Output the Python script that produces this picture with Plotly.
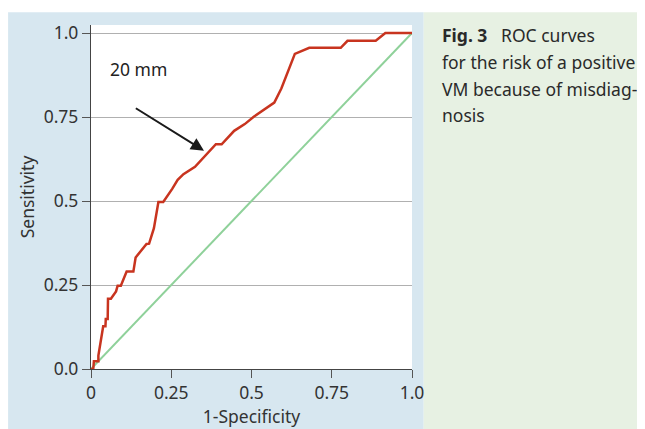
import plotly.graph_objects as go

# ROC curve (1-Specificity, Sensitivity)
fpr = [0.0, 0.007, 0.009, 0.023, 0.023, 0.038, 0.045, 0.046, 0.052, 0.053, 0.062, 0.078,
       0.083, 0.093, 0.111, 0.132, 0.139, 0.173, 0.181, 0.196, 0.21, 0.225, 0.253, 0.27,
       0.288, 0.324, 0.389, 0.407, 0.446, 0.479, 0.507, 0.571, 0.593, 0.635, 0.68, 0.778,
       0.799, 0.887, 0.917, 1.0]
sens = [0.0, 0.0, 0.023, 0.023, 0.04, 0.127, 0.127, 0.149, 0.149, 0.209, 0.209, 0.231,
        0.248, 0.248, 0.29, 0.29, 0.332, 0.372, 0.373, 0.419, 0.497, 0.497, 0.536, 0.563,
        0.58, 0.602, 0.669, 0.669, 0.709, 0.729, 0.751, 0.793, 0.835, 0.938, 0.956, 0.956,
        0.977, 0.977, 1.0, 1.0]
diag_x = [0.0, 1.0]
diag_y = [0.0, 1.0]

tick_vals = [0, 0.25, 0.5, 0.75, 1.0]
x_tick_text = ["0", "0.25", "0.5", "0.75", "1.0"]
y_tick_text = ["0.0", "0.25", "0.5", "0.75", "1.0"]

label_text = "20 mm"
arrow_tail = (0.135, 0.779)
arrow_head = (0.352, 0.650)
caption_lines = ["<b>Fig. 3</b>   ROC curves", "for the risk of a positive",
                 "VM because of misdiag-", "nosis"]

FONT = "Noto Sans"
TXT = "#333333"
FS = 17.5

fig = go.Figure()
fig.add_trace(go.Scatter(x=diag_x, y=diag_y, mode="lines",
                         line=dict(color="#8fd19a", width=2), hoverinfo="skip"))
fig.add_trace(go.Scatter(x=fpr, y=sens, mode="lines",
                         line=dict(color="#c8341f", width=2.5), hoverinfo="skip"))

# background panels (paper coords)
fig.add_shape(type="rect", xref="paper", yref="paper", x0=-0.2583, x1=1.0364,
              y0=-0.2, y1=1.0369, fillcolor="#d7e7f0", line_width=0, layer="below")
fig.add_shape(type="rect", xref="paper", yref="paper", x0=1.0364, x1=1.75,
              y0=-0.2, y1=1.0369, fillcolor="#e7f1e3", line_width=0, layer="below")
fig.add_shape(type="rect", xref="paper", yref="paper", x0=0, x1=1,
              y0=0, y1=1, fillcolor="white", line_width=0, layer="below")

fig.add_annotation(x=arrow_head[0], y=arrow_head[1], ax=arrow_tail[0], ay=arrow_tail[1],
                   xref="x", yref="y", axref="x", ayref="y", text="", showarrow=True,
                   arrowhead=2, arrowsize=1.3, arrowwidth=2, arrowcolor="#1a1a1a")
fig.add_annotation(x=0.053, y=0.893, xref="x", yref="y", text=label_text, showarrow=False,
                   xanchor="left", yanchor="middle", font=dict(family=FONT, size=FS, color="#222"))

line_y = [35, 62, 89, 115]
for txt, py in zip(caption_lines, line_y):
    fig.add_annotation(x=(440 - 91) / 321.3, y=(369.3 - py) / 344.3, xref="paper", yref="paper",
                       text=txt, showarrow=False, xanchor="left", yanchor="middle",
                       font=dict(family=FONT, size=FS, color="#2a2a2a"))

fig.update_layout(
    width=637, height=421,
    margin=dict(l=83, r=232.7, t=17, b=59.7),
    paper_bgcolor="white", plot_bgcolor="white",
    showlegend=False,
    font=dict(family=FONT, size=FS, color=TXT),
)
fig.update_xaxes(range=[0, 1.0], tickvals=tick_vals, ticktext=x_tick_text,
                 showgrid=False, zeroline=False, showline=True, linecolor="#444", linewidth=1.2,
                 ticks="outside", ticklen=8, tickcolor="#555",
                 title=dict(text="1-Specificity", standoff=2, font=dict(size=FS, color=TXT)),
                 tickfont=dict(size=FS, color=TXT))
fig.update_yaxes(range=[0, 1.024], tickvals=tick_vals, ticktext=y_tick_text,
                 showgrid=True, gridcolor="#b0b0b0", gridwidth=1, zeroline=False,
                 showline=True, linecolor="#444", linewidth=1.2,
                 ticks="outside", ticklen=8, tickcolor="#555",
                 title=dict(text="Sensitivity", standoff=4, font=dict(size=FS, color=TXT)),
                 tickfont=dict(size=FS, color=TXT))

fig.write_html("out.html")
